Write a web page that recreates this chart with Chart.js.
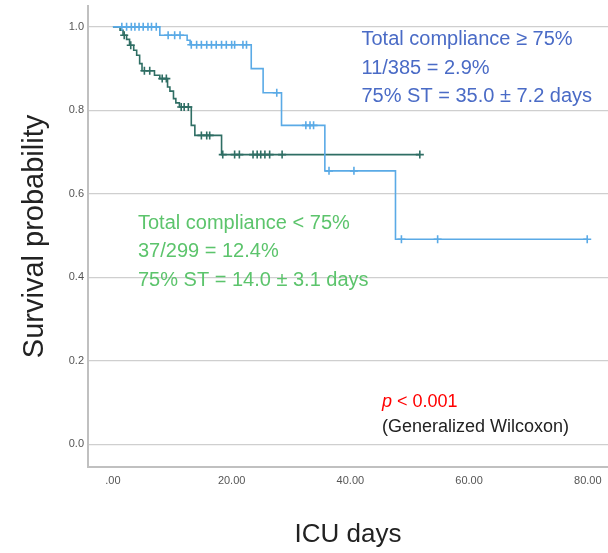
<!DOCTYPE html>
<html>
<head>
<meta charset="utf-8">
<script src="https://cdn.jsdelivr.net/npm/chart.js@4"></script>
<style>
  html, body { margin: 0; padding: 0; background: #fff; }
  #wrap { width: 608px; height: 553px; }
</style>
</head>
<body>
<div id="wrap"><canvas id="c" width="608" height="553"></canvas></div>
<script>
// ---- Data ----
// Total compliance >= 75% : event times (days) and survival after each step
const blueTimes = [0, 7.9, 12.5, 13.0, 23.3, 25.3, 28.4, 35.7, 47.6, 79.9];
const blueSurv  = [1.0, 0.980, 0.968, 0.957, 0.900, 0.842, 0.764, 0.655, 0.491, 0.491];
const blueCensor = [1.5, 2.3, 3.1, 3.7, 4.4, 5.1, 5.9, 6.5, 7.3, 9.3, 10.4, 11.3,
  13.2, 14.1, 14.9, 15.8, 16.6, 17.4, 18.3, 19.1, 20.0, 20.5, 21.9, 22.5,
  27.6, 32.5, 33.2, 33.8, 36.4, 40.6, 48.6, 54.7, 79.9];

// Total compliance < 75%
const greenTimes = [0, 1.2, 1.7, 2.3, 2.8, 3.5, 4.0, 4.5, 4.9, 7.0, 7.9, 9.2, 9.6, 10.2, 10.6, 11.2, 13.2, 13.8, 18.3, 51.7];
const greenSurv  = [1.0, 0.992, 0.980, 0.970, 0.956, 0.944, 0.932, 0.912, 0.895, 0.884, 0.876, 0.856, 0.846, 0.828, 0.818, 0.808, 0.764, 0.740, 0.694, 0.694];
const greenCensor = [1.9, 3.0, 5.3, 6.2, 8.3, 9.0, 11.5, 12.0, 12.7, 14.9, 15.8, 16.3,
  18.5, 20.5, 21.3, 23.6, 24.3, 24.9, 25.6, 26.4, 28.5, 51.7];

const xTickValues = [0, 20, 40, 60, 80];
const xTickLabels = ['.00', '20.00', '40.00', '60.00', '80.00'];
const yTickValues = [0, 0.2, 0.4, 0.6, 0.8, 1.0];
const yTickLabels = ['0.0', '0.2', '0.4', '0.6', '0.8', '1.0'];

const blueText = ['Total compliance \u2265 75%', '11/385 = 2.9%', '75% ST = 35.0 \u00B1 7.2 days'];
const greenText = ['Total compliance < 75%', '37/299 = 12.4%', '75% ST = 14.0 \u00B1 3.1 days'];
const pText = ['p', ' < 0.001'];
const testText = '(Generalized Wilcoxon)';
const xTitle = 'ICU days';
const yTitle = 'Survival probability';

// ---- Helpers ----
function survAt(times, surv, t) {
  let s = surv[0];
  for (let i = 0; i < times.length; i++) { if (times[i] <= t) s = surv[i]; }
  return s;
}
const toPts = (ts, ss) => ts.map((t, i) => ({x: t, y: ss[i]}));
const censorPts = (cs, ts, ss) => cs.map(t => ({x: t, y: survAt(ts, ss, t)}));

const BLUE = '#5aaae6';
const GREEN = '#2f6e64';
const FONT = "'Liberation Sans', Arial, sans-serif";

const textPlugin = {
  id: 'annot',
  afterDraw(chart) {
    const ctx = chart.ctx;
    ctx.save();
    ctx.textBaseline = 'alphabetic';
    ctx.textAlign = 'left';
    ctx.font = '20px ' + FONT;
    ctx.fillStyle = '#4a6bc6';
    const bY = [45, 73.5, 102];
    blueText.forEach((s, i) => ctx.fillText(s, 361.5, bY[i]));
    ctx.fillStyle = '#5cc46c';
    const gY = [228.5, 257, 286];
    greenText.forEach((s, i) => ctx.fillText(s, 138, gY[i]));
    ctx.fillStyle = '#ff0000';
    ctx.font = 'italic 18px ' + FONT;
    ctx.fillText(pText[0], 382, 406.5);
    const w = ctx.measureText(pText[0]).width;
    ctx.font = '18px ' + FONT;
    ctx.fillText(pText[1], 382 + w, 406.5);
    ctx.fillStyle = '#222222';
    ctx.fillText(testText, 382, 431.5);
    ctx.restore();
  }
};

new Chart(document.getElementById('c'), {
  type: 'scatter',
  data: {
    datasets: [
      { label: 'lt75', data: toPts(greenTimes, greenSurv), showLine: true, stepped: 'before',
        borderColor: GREEN, borderWidth: 1.6, pointRadius: 0, fill: false, order: 4 },
      { label: 'lt75c', data: censorPts(greenCensor, greenTimes, greenSurv), showLine: false,
        pointStyle: 'cross', pointRadius: 4, borderColor: GREEN, pointBorderWidth: 1.6, order: 3 },
      { label: 'ge75', data: toPts(blueTimes, blueSurv), showLine: true, stepped: 'before',
        borderColor: BLUE, borderWidth: 1.6, pointRadius: 0, fill: false, order: 2 },
      { label: 'ge75c', data: censorPts(blueCensor, blueTimes, blueSurv), showLine: false,
        pointStyle: 'cross', pointRadius: 4, borderColor: BLUE, pointBorderWidth: 1.6, order: 1 }
    ]
  },
  options: {
    responsive: false,
    animation: false,
    devicePixelRatio: 1,
    layout: { autoPadding: false, padding: { top: 6, right: 0, left: 0, bottom: 0 } },
    plugins: { legend: { display: false }, tooltip: { enabled: false } },
    elements: { point: { hoverRadius: 4 } },
    scales: {
      x: {
        type: 'linear', min: -4.2, max: 83.4,
        afterBuildTicks: s => { s.ticks = xTickValues.map(v => ({value: v})); },
        afterFit: s => { s.height = 86; s.paddingLeft = 0; s.paddingRight = 0; },
        ticks: { callback: (v) => xTickLabels[xTickValues.indexOf(v)] ?? '',
          font: { size: 11, family: FONT }, color: '#555', padding: 7, maxRotation: 0 },
        grid: { display: false, drawTicks: false },
        border: { display: true, color: '#c0c0c0', width: 2 },
        title: { display: true, text: xTitle, color: '#222', font: { size: 26, family: FONT },
          padding: { top: 0, bottom: 3 } }
      },
      y: {
        type: 'linear', min: -0.0545, max: 1.05,
        afterBuildTicks: s => { s.ticks = yTickValues.map(v => ({value: v})); },
        afterFit: s => { s.width = 88; s.paddingTop = 0; s.paddingBottom = 0; },
        ticks: { callback: (v) => { const i = yTickValues.findIndex(t => Math.abs(t - v) < 1e-9); return i >= 0 ? yTickLabels[i] : ''; },
          font: { size: 11, family: FONT }, color: '#555', padding: 4 },
        grid: { color: '#cfcfcf', lineWidth: 1.2, drawTicks: false },
        border: { display: true, color: '#c0c0c0', width: 2 },
        title: { display: true, text: yTitle, color: '#222', font: { size: 29, family: FONT },
          padding: { top: 18, bottom: 0 } }
      }
    }
  },
  plugins: [textPlugin]
});
</script>
</body>
</html>
